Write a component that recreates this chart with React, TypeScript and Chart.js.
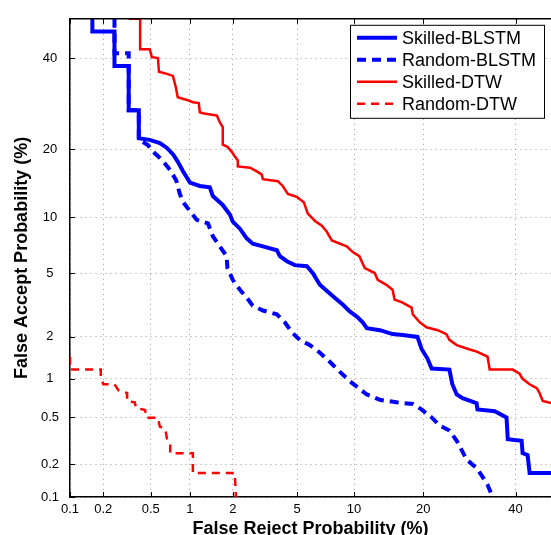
import React, { useEffect, useRef } from 'react';
import { Chart, LinearScale, registerables } from 'chart.js';

Chart.register(...registerables);

// ---- data (percentages) ----
const tickValues = [0.1, 0.2, 0.5, 1, 2, 5, 10, 20, 40];
const tickLabels = ['0.1', '0.2', '0.5', '1', '2', '5', '10', '20', '40'];
const xRange = [0.1, 48.9];
const yRange = [0.1, 50];
const seriesNames = ['Skilled-BLSTM', 'Random-BLSTM', 'Skilled-DTW', 'Random-DTW'];
const xTitle = 'False Reject Probability (%)';
const yTitle = 'False Accept Probability (%)';

const skilledBlstmFRR = [0.16, 0.16, 0.25, 0.25, 0.33, 0.33, 0.40, 0.40, 0.49, 0.59, 0.67, 0.75, 0.81, 0.89, 1.0, 1.18, 1.39, 1.46, 1.71, 1.91, 2.0, 2.23, 2.47, 2.70, 3.13, 3.81, 3.97, 4.37, 4.86, 5.68, 6.12, 6.69, 7.27, 8.2, 8.79, 9.53, 10.4, 11.0, 11.5, 13.2, 15.0, 16.55, 19.0, 19.7, 20.8, 21.55, 25.0, 25.6, 26.5, 27.75, 30.8, 31.0, 35.0, 37.8, 38.1, 41.5, 41.75, 43.0, 43.5, 48.9];
const skilledBlstmFAR = [50, 46.7, 46.7, 38.0, 38.0, 27.7, 27.7, 22.0, 21.7, 21.1, 20.2, 19.0, 17.8, 16.2, 14.5, 14.0, 13.8, 12.6, 11.45, 10.3, 9.5, 8.75, 7.8, 7.3, 7.07, 6.74, 6.25, 5.86, 5.57, 5.49, 5.02, 4.28, 3.94, 3.48, 3.24, 2.93, 2.69, 2.49, 2.28, 2.21, 2.08, 2.05, 1.99, 1.65, 1.40, 1.19, 1.17, 0.91, 0.76, 0.71, 0.65, 0.58, 0.56, 0.50, 0.33, 0.32, 0.25, 0.24, 0.167, 0.167];

const randomBlstmFRR = [0.25, 0.25, 0.33, 0.33, 0.40, 0.40, 0.47, 0.54, 0.62, 0.71, 0.79, 0.84, 0.89, 1.0, 1.12, 1.35, 1.46, 1.63, 1.82, 1.84, 2.0, 2.23, 2.47, 2.70, 3.13, 3.81, 4.25, 4.67, 5.18, 5.89, 6.43, 7.36, 8.49, 9.53, 11.5, 13.2, 15.6, 18.2, 19.7, 21.55, 23.05, 25.0, 26.5, 28.6, 30.8, 32.2, 33.3, 34.5];
const randomBlstmFAR = [50, 41.2, 41.2, 27.7, 27.7, 21.7, 20.8, 19.2, 18.0, 16.4, 14.8, 12.9, 11.8, 10.7, 9.7, 9.3, 8.0, 7.07, 6.25, 5.36, 4.58, 4.0, 3.58, 3.19, 2.97, 2.81, 2.49, 2.14, 1.90, 1.75, 1.62, 1.38, 1.13, 0.96, 0.76, 0.69, 0.66, 0.64, 0.58, 0.50, 0.43, 0.39, 0.32, 0.22, 0.185, 0.153, 0.13, 0.1];

const skilledDtwFRR = [0.33, 0.41, 0.41, 0.49, 0.51, 0.57, 0.58, 0.67, 0.745, 0.785, 0.81, 0.95, 1.05, 1.16, 1.18, 1.24, 1.56, 1.63, 1.71, 1.71, 1.84, 1.97, 2.06, 2.16, 2.16, 2.59, 2.87, 3.08, 3.13, 3.86, 4.13, 4.43, 4.98, 5.46, 5.75, 6.28, 6.85, 7.27, 7.73, 9.2, 9.86, 10.6, 11.25, 12.5, 12.9, 14.1, 15.0, 15.3, 16.55, 18.0, 18.2, 19.4, 20.6, 22.7, 24.4, 25.0, 26.5, 28.8, 31.0, 33.3, 33.8, 39.3, 41.0, 41.75, 43.5, 45.3, 46.0, 46.8, 48.9];
const skilledDtwFAR = [50, 50, 42.2, 42.2, 40.2, 40.0, 36.6, 36.1, 35.6, 32.8, 30.6, 30.0, 29.5, 29.3, 27.3, 27.1, 26.6, 25.2, 24.2, 20.8, 20.4, 19.5, 18.7, 18.0, 17.0, 16.8, 16.2, 15.7, 15.0, 14.7, 14.0, 12.9, 12.5, 11.8, 10.4, 9.6, 9.06, 8.46, 7.6, 7.07, 6.58, 6.25, 5.36, 5.02, 4.58, 4.28, 4.0, 3.48, 3.33, 3.10, 2.81, 2.49, 2.31, 2.21, 2.08, 1.90, 1.75, 1.65, 1.57, 1.45, 1.17, 1.17, 1.09, 1.0, 0.91, 0.85, 0.78, 0.675, 0.65];

const randomDtwFRR = [0.1, 0.1, 0.19, 0.19, 0.2, 0.25, 0.27, 0.32, 0.32, 0.37, 0.38, 0.45, 0.46, 0.57, 0.59, 0.65, 0.67, 0.71, 0.71, 1.05, 1.05, 2.06, 2.1];
const randomDtwFAR = [1.45, 1.17, 1.17, 1.04, 0.91, 0.91, 0.82, 0.78, 0.675, 0.66, 0.595, 0.574, 0.496, 0.496, 0.42, 0.40, 0.334, 0.30, 0.25, 0.25, 0.167, 0.167, 0.1];

// ---- normal deviate (probit) scale ----
function probit(p: number): number {
  p = Math.min(Math.max(p, 1e-9), 1 - 1e-9);
  const a = [-3.969683028665376e1, 2.209460984245205e2, -2.759285104469687e2, 1.38357751867269e2, -3.066479806614716e1, 2.506628277459239];
  const b = [-5.447609879822406e1, 1.615858368580409e2, -1.556989798598866e2, 6.680131188771972e1, -1.328068155288572e1];
  const c = [-7.784894002430293e-3, -3.223964580411365e-1, -2.400758277161838, -2.549732539343734, 4.374664141464968, 2.938163982698783];
  const d = [7.784695709041462e-3, 3.224671290700398e-1, 2.445134137142996, 3.754408661907416];
  const pl = 0.02425;
  if (p < pl) {
    const q = Math.sqrt(-2 * Math.log(p));
    return (((((c[0] * q + c[1]) * q + c[2]) * q + c[3]) * q + c[4]) * q + c[5]) / ((((d[0] * q + d[1]) * q + d[2]) * q + d[3]) * q + 1);
  }
  if (p <= 1 - pl) {
    const q = p - 0.5;
    const r = q * q;
    return ((((((a[0] * r + a[1]) * r + a[2]) * r + a[3]) * r + a[4]) * r + a[5]) * q) / (((((b[0] * r + b[1]) * r + b[2]) * r + b[3]) * r + b[4]) * r + 1);
  }
  const q = Math.sqrt(-2 * Math.log(1 - p));
  return -(((((c[0] * q + c[1]) * q + c[2]) * q + c[3]) * q + c[4]) * q + c[5]) / ((((d[0] * q + d[1]) * q + d[2]) * q + d[3]) * q + 1);
}

function normcdf(z: number): number {
  const t = 1 / (1 + 0.3275911 * Math.abs(z) / Math.SQRT2);
  const y = 1 - (((((1.061405429 * t - 1.453152027) * t) + 1.421413741) * t - 0.284496736) * t + 0.254829592) * t * Math.exp(-z * z / 2);
  return z >= 0 ? 0.5 * (1 + y) : 0.5 * (1 - y);
}

class ProbitScale extends LinearScale {
  static id = 'probit';
  static defaults = {};
  _pStart = 0;
  _pRange = 1;
  buildTicks() {
    const vals: number[] = ((this as any).options.tickValues as number[]) || tickValues;
    return vals.filter((v) => v >= (this as any).min && v <= (this as any).max).map((v) => ({ value: v }));
  }
  configure() {
    super.configure();
    this._pStart = probit((this as any).min / 100);
    this._pRange = probit((this as any).max / 100) - this._pStart;
  }
  getPixelForValue(value: number) {
    if (value === null || value === undefined || isNaN(value)) return NaN;
    return (this as any).getPixelForDecimal((probit(value / 100) - this._pStart) / this._pRange);
  }
  getValueForPixel(pixel: number) {
    const dec = (this as any).getDecimalForPixel(pixel);
    return normcdf(this._pStart + dec * this._pRange) * 100;
  }
}
Chart.register(ProbitScale as any);

const labelFor = (v: number) => {
  const i = tickValues.indexOf(v);
  return i >= 0 ? tickLabels[i] : '';
};

const FONT = "'Liberation Sans', Arial, Helvetica, sans-serif";

const detOverlay = {
  id: 'detOverlay',
  afterDatasetsDraw(chart: any) {
    const { ctx, chartArea: a, scales } = chart;
    ctx.save();
    // top frame line
    ctx.strokeStyle = '#000';
    ctx.lineWidth = 1.5;
    ctx.beginPath();
    ctx.moveTo(a.left, a.top);
    ctx.lineTo(a.right, a.top);
    ctx.stroke();
    // inward tick marks
    ctx.lineWidth = 1;
    ctx.beginPath();
    scales.x.ticks.forEach((t: any) => {
      const px = Math.round(scales.x.getPixelForValue(t.value)) + 0.5;
      ctx.moveTo(px, a.bottom);
      ctx.lineTo(px, a.bottom - 5);
      ctx.moveTo(px, a.top);
      ctx.lineTo(px, a.top + 5);
    });
    scales.y.ticks.forEach((t: any) => {
      const py = Math.round(scales.y.getPixelForValue(t.value)) + 0.5;
      ctx.moveTo(a.left, py);
      ctx.lineTo(a.left + 5, py);
    });
    ctx.stroke();
    // legend box
    const bw = 194;
    const bh = 93;
    const bx = a.right - 7 - bw;
    const by = a.top + 6;
    ctx.fillStyle = '#fff';
    ctx.fillRect(bx, by, bw, bh);
    ctx.strokeStyle = '#000';
    ctx.lineWidth = 1;
    ctx.strokeRect(bx + 0.5, by + 0.5, bw, bh);
    chart.data.datasets.forEach((ds: any, i: number) => {
      const y = by + 14 + i * 22;
      ctx.save();
      ctx.strokeStyle = ds.borderColor;
      ctx.lineWidth = ds.borderWidth;
      ctx.setLineDash(ds.borderDash || []);
      ctx.beginPath();
      ctx.moveTo(bx + 7, y - 1);
      ctx.lineTo(bx + 47, y - 1);
      ctx.stroke();
      ctx.restore();
      ctx.fillStyle = '#000';
      ctx.font = `18px ${FONT}`;
      ctx.textBaseline = 'middle';
      ctx.textAlign = 'left';
      ctx.fillText(ds.label, bx + 52, y);
    });
    ctx.restore();
  },
};

const toPoints = (xs: number[], ys: number[]) => xs.map((x, i) => ({ x, y: ys[i] }));

export default function App() {
  const ref = useRef<HTMLCanvasElement>(null);
  useEffect(() => {
    document.body.style.margin = '0';
    Chart.defaults.font.family = FONT;
    Chart.defaults.color = '#000';
    const gridCfg = { color: '#9a9a9a', lineWidth: 1, drawTicks: false };
    const borderCfg = { display: true, color: '#000', width: 1.5, dash: [1, 4] };
    const chart = new Chart(ref.current as HTMLCanvasElement, {
      type: 'line',
      data: {
        datasets: [
          { label: seriesNames[0], data: toPoints(skilledBlstmFRR, skilledBlstmFAR), borderColor: '#0000ff', borderWidth: 4, borderDash: [], pointRadius: 0, fill: false, tension: 0 },
          { label: seriesNames[1], data: toPoints(randomBlstmFRR, randomBlstmFAR), borderColor: '#0000ff', borderWidth: 4, borderDash: [9, 6], pointRadius: 0, fill: false, tension: 0 },
          { label: seriesNames[2], data: toPoints(skilledDtwFRR, skilledDtwFAR), borderColor: '#ff0000', borderWidth: 2.5, borderDash: [], pointRadius: 0, fill: false, tension: 0 },
          { label: seriesNames[3], data: toPoints(randomDtwFRR, randomDtwFAR), borderColor: '#ff0000', borderWidth: 2.5, borderDash: [8, 6], pointRadius: 0, fill: false, tension: 0 },
        ] as any,
      },
      options: {
        animation: false,
        responsive: false,
        maintainAspectRatio: false,
        layout: { padding: { top: 13, right: 0, left: 0, bottom: 0 } },
        plugins: { legend: { display: false }, tooltip: { enabled: false } },
        scales: {
          x: {
            type: 'probit' as any,
            position: 'bottom',
            min: xRange[0],
            max: xRange[1],
            tickValues,
            grid: gridCfg,
            border: borderCfg,
            ticks: { autoSkip: false, maxRotation: 0, padding: 5, font: { size: 13 }, color: '#000', callback: (v: any) => labelFor(Number(v)) },
            title: { display: true, text: xTitle, font: { size: 18, weight: 'bold' }, color: '#000', padding: { top: 0, bottom: -5 } },
            afterFit: (s: any) => { s.height = 38; },
          } as any,
          y: {
            type: 'probit' as any,
            position: 'left',
            min: yRange[0],
            max: yRange[1],
            tickValues,
            grid: gridCfg,
            border: borderCfg,
            ticks: { autoSkip: false, padding: 11, crossAlign: 'center', font: { size: 13 }, color: '#000', callback: (v: any) => labelFor(Number(v)) },
            title: { display: true, text: yTitle, font: { size: 18, weight: 'bold' }, color: '#000', padding: { top: 11, bottom: 0 } },
            afterFit: (s: any) => { s.width = 70; },
          } as any,
        },
      },
      plugins: [detOverlay],
    } as any);
    return () => chart.destroy();
  }, []);
  return (
    <div style={{ width: 551, height: 535 }}>
      <canvas ref={ref} width={551} height={535} style={{ display: 'block' }} />
    </div>
  );
}
